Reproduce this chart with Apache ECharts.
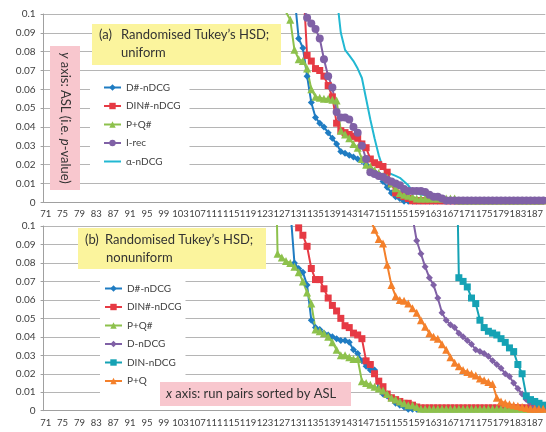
<!DOCTYPE html>
<html>
<head>
<meta charset="utf-8">
<script src="https://cdn.jsdelivr.net/npm/echarts@6/dist/echarts.min.js"></script>
<style>
  html, body { margin: 0; padding: 0; background: #fff; }
  #chart { width: 546px; height: 432px; }
</style>
</head>
<body>
<div id="chart"></div>
<script>
// run pairs shown on the x axis (first / last visible pair)
const firstRun = 71
const lastRun = 189
const yTicks = { min: 0, max: 0.1, step: 0.01 }

// (a) uniform -- each series starts at the given run pair
const dSharpTopStart = 130
const dSharpTop = [
  0.11, 0.087, 0.082, 0.067, 0.053, 0.045, 0.042, 0.040, 0.037, 0.034,
  0.031, 0.027, 0.026, 0.025, 0.024, 0.023, 0.022, 0.020, 0.018,
  0.016, 0.014, 0.011, 0.008, 0.005, 0.003, 0.002,
  0.0005, 0.0005, 0.0005, 0.0005, 0.0005, 0.0005, 0.0005, 0.0005, 0.0005, 0.0005, 0.0005, 0.0005,
  0.0005, 0.0005, 0.0005, 0.0005, 0.0005, 0.0005, 0.0005, 0.0005, 0.0005, 0.0005, 0.0005, 0.0005,
  0.0005, 0.0005, 0.0005, 0.0005, 0.0005, 0.0005, 0.0005, 0.0005, 0.0005, 0.0005,
]
const dinSharpTopStart = 132
const dinSharpTop = [
  0.12, 0.078, 0.075, 0.071, 0.070, 0.067, 0.062, 0.056, 0.042, 0.038,
  0.037, 0.036, 0.035, 0.034, 0.031, 0.029, 0.023, 0.021, 0.020,
  0.019, 0.016, 0.010, 0.005, 0.004, 0.003, 0.002,
  0.0008, 0.0008, 0.0008, 0.0008, 0.0008, 0.0008, 0.0008, 0.0008, 0.0008, 0.0008, 0.0008, 0.0008,
  0.0008, 0.0008, 0.0008, 0.0008, 0.0008, 0.0008, 0.0008, 0.0008, 0.0008, 0.0008, 0.0008, 0.0008,
  0.0008, 0.0008, 0.0008, 0.0008, 0.0008, 0.0008, 0.0008, 0.0008,
]
const pqSharpTopStart = 127
const pqSharpTop = [
  0.12, 0.101, 0.097, 0.081, 0.076, 0.075, 0.071, 0.060, 0.056, 0.0555,
  0.055, 0.055, 0.0545, 0.054, 0.038, 0.036, 0.034, 0.031, 0.029,
  0.023, 0.020, 0.019, 0.017, 0.0155, 0.014, 0.013, 0.010, 0.0075, 0.005,
  0.004, 0.0035, 0.003,
  0.002, 0.002, 0.002, 0.002, 0.002, 0.002, 0.002, 0.002, 0.002, 0.002,
  0.001, 0.001, 0.001, 0.001, 0.001, 0.001, 0.001, 0.001, 0.001, 0.001, 0.001,
  0.001, 0.001, 0.001, 0.001, 0.001, 0.001, 0.001, 0.001, 0.001, 0.001,
]
const iRecTopStart = 132
const iRecTop = [
  0.105, 0.098, 0.095, 0.092, 0.087, 0.076, 0.067, 0.061, 0.048, 0.045,
  0.045, 0.044, 0.040, 0.037, 0.030, 0.023, 0.016, 0.015, 0.014,
  0.0135, 0.012, 0.011, 0.010, 0.009, 0.007, 0.006, 0.006, 0.006, 0.006,
  0.0055, 0.004, 0.003, 0.003, 0.002,
  0.001, 0.001, 0.001, 0.001, 0.001, 0.001, 0.001, 0.001, 0.001, 0.001, 0.001, 0.001,
  0.001, 0.001, 0.001, 0.001, 0.001, 0.001, 0.001, 0.001, 0.001, 0.001, 0.001, 0.001,
]
const alphaTopStart = 140
const alphaTop = [
  0.11, 0.090, 0.081, 0.078, 0.075, 0.071, 0.066, 0.055, 0.044,
  0.034, 0.025, 0.018, 0.016, 0.015, 0.014, 0.013, 0.011, 0.009, 0.006,
  0.005, 0.004, 0.004, 0.003, 0.003, 0.002, 0.002,
  0.0005, 0.0005, 0.0005, 0.0005, 0.0005, 0.0005, 0.0005, 0.0005, 0.0005, 0.0005, 0.0005, 0.0005,
  0.0005, 0.0005, 0.0005, 0.0005, 0.0005, 0.0005, 0.0005, 0.0005, 0.0005, 0.0005, 0.0005, 0.0005,
]

// (b) nonuniform
const dSharpBotStart = 129
const dSharpBot = [
  0.11, 0.080, 0.077, 0.075, 0.068, 0.049, 0.045, 0.044, 0.042, 0.041,
  0.040, 0.039, 0.038, 0.038, 0.037, 0.033, 0.031, 0.027, 0.024,
  0.022, 0.022, 0.012, 0.009, 0.008, 0.007, 0.004, 0.003, 0.002,
  0.0008, 0.0008, 0.0008, 0.0008, 0.0008, 0.0008, 0.0008, 0.0008, 0.0008, 0.0008, 0.0008,
  0.0008, 0.0008, 0.0008, 0.0008, 0.0008, 0.0008, 0.0008, 0.0008, 0.0008, 0.0008, 0.0008,
  0.0008, 0.0008, 0.0008, 0.0008, 0.0008, 0.0008, 0.0008, 0.0008, 0.0008, 0.0008, 0.0008,
]
const dinSharpBotStart = 130
const dinSharpBot = [
  0.13, 0.099, 0.095, 0.089, 0.077, 0.071, 0.071, 0.066, 0.061, 0.057,
  0.054, 0.050, 0.046, 0.045, 0.042, 0.041, 0.039, 0.027, 0.025,
  0.020, 0.016, 0.013, 0.009, 0.007, 0.006, 0.005, 0.004, 0.004, 0.003,
  0.002,
  0.0015, 0.0015, 0.0015, 0.0015, 0.0015, 0.0015, 0.0015, 0.0015, 0.0015, 0.0015,
  0.0015, 0.0015, 0.0015, 0.0015, 0.0015, 0.0015, 0.0015, 0.0015, 0.0015, 0.0015,
  0.0015, 0.0015, 0.0015, 0.0015, 0.0015, 0.0015, 0.0015, 0.0015, 0.0015, 0.0015,
]
const pqSharpBotStart = 125
const pqSharpBot = [
  0.2, 0.085, 0.083, 0.081, 0.080, 0.078, 0.075, 0.070, 0.064, 0.058,
  0.044, 0.043, 0.042, 0.040, 0.037, 0.033, 0.030, 0.030, 0.029, 0.028,
  0.028, 0.016, 0.015, 0.014, 0.013, 0.012, 0.011, 0.009, 0.007,
  0.006, 0.005, 0.004, 0.003, 0.003, 0.002,
  0.001, 0.001, 0.001, 0.001, 0.001, 0.001, 0.001, 0.001, 0.001, 0.001,
  0.001, 0.001, 0.001, 0.001, 0.001, 0.001, 0.001, 0.001, 0.001, 0.001,
  0.001, 0.001, 0.001, 0.001, 0.001, 0.001, 0.001, 0.001, 0.001, 0.001,
]
const dnBotStart = 158
const dnBot = [
  0.105, 0.092, 0.085, 0.078, 0.072, 0.068, 0.061, 0.053, 0.049, 0.0465,
  0.045, 0.042, 0.040, 0.038, 0.036, 0.033, 0.032, 0.031, 0.0295, 0.027,
  0.025, 0.023, 0.020, 0.0185, 0.015, 0.012, 0.009, 0.006, 0.004, 0.002,
  0.001, 0.001,
]
const dinBotStart = 168
const dinBot = [
  0.2, 0.072, 0.070, 0.067, 0.061, 0.058, 0.049, 0.045, 0.043, 0.042,
  0.041, 0.039, 0.037, 0.034, 0.032, 0.025, 0.020, 0.008, 0.006, 0.005,
  0.004, 0.003,
]
const pqBotStart = 148
const pqBot = [
  0.104, 0.098, 0.093, 0.0905, 0.079, 0.068, 0.062, 0.060, 0.0595, 0.058,
  0.0555, 0.053, 0.049, 0.0455, 0.042, 0.040, 0.039, 0.036, 0.033, 0.029,
  0.026, 0.024, 0.022, 0.021, 0.020, 0.019, 0.0175, 0.0165, 0.0155, 0.0145,
  0.007, 0.005, 0.0042, 0.0035, 0.003, 0.0025, 0.002, 0.0015, 0.001, 0.001,
  0.001, 0.001,
]

const font = 'Lato, sans-serif'
const txt = '#404040'
const gridColor = '#b5b5b5'

const runs = []
for (let r = firstRun; r <= lastRun; r++) runs.push(String(r))

// put a series on the run-pair axis, empty before it starts
function place(start, values) {
  return runs.map((r, i) => {
    const k = firstRun + i - start
    return k >= 0 && k < values.length ? values[k] : null
  })
}

function xAxisFor(gridIndex) {
  return {
    type: 'category',
    gridIndex: gridIndex,
    data: runs,
    boundaryGap: true,
    axisLine: { lineStyle: { color: '#a0a0a0', width: 1 } },
    axisTick: { interval: 0, length: 3, lineStyle: { color: '#a0a0a0' } },
    axisLabel: { interval: 3, fontSize: 9.5, fontFamily: font, color: txt, margin: 7 },
    splitLine: { show: false },
  }
}

function yAxisFor(gridIndex) {
  return {
    type: 'value',
    gridIndex: gridIndex,
    min: yTicks.min,
    max: yTicks.max,
    interval: yTicks.step,
    axisLine: { show: true, lineStyle: { color: '#a0a0a0', width: 1 } },
    axisTick: { show: true, length: 3, lineStyle: { color: '#a0a0a0' } },
    axisLabel: { fontSize: 10, fontFamily: font, color: txt, margin: 8 },
    splitLine: { lineStyle: { color: gridColor, width: 1 } },
  }
}

function line(name, idx, data, color, symbol, size) {
  return {
    name: name,
    type: 'line',
    xAxisIndex: idx,
    yAxisIndex: idx,
    data: data,
    color: color,
    symbol: symbol,
    symbolSize: size,
    showSymbol: symbol !== 'none',
    showAllSymbol: true,
    lineStyle: { width: 2, color: color },
    itemStyle: { color: color },
    clip: true,
  }
}

const blue = '#1f7cc2'
const red = '#e63a44'
const green = '#8dc14c'
const purple = '#8061a6'
const cyan = '#22b8d2'
const teal = '#15a2b4'
const orange = '#f4802b'

function legendFor(left, top, padding, names) {
  return {
    orient: 'vertical',
    left: left,
    top: top,
    padding: padding,
    backgroundColor: '#fff',
    itemWidth: 17,
    itemHeight: 8,
    itemGap: 5.5,
    selectedMode: false,
    textStyle: { fontSize: 10, fontFamily: font, color: txt, lineHeight: 13 },
    data: names,
  }
}

function box(x, y, w, h, fill) {
  return { type: 'rect', shape: { x: x, y: y, width: w, height: h }, style: { fill: fill }, z: 10 }
}

function label(x, y, text, extra) {
  return Object.assign({
    type: 'text',
    x: x,
    y: y,
    z: 11,
    style: {
      text: text,
      fontSize: 13,
      fontFamily: font,
      fill: '#333',
      align: 'left',
      verticalAlign: 'middle',
      textAlign: 'left',
      textVerticalAlign: 'middle',
      rich: { i: { fontStyle: 'italic', fontSize: 13, fontFamily: font, fill: '#333' } },
    },
  }, extra || {})
}

const yellow = '#fbf49d'
const pink = '#f8c7ce'

const chart = echarts.init(document.getElementById('chart'))
const option = {
  animation: false,
  backgroundColor: '#fff',
  grid: [
    { left: 43.6, width: 504.4, top: 14, height: 188.3 },
    { left: 43.6, width: 504.4, top: 226, height: 184.7 },
  ],
  xAxis: [xAxisFor(0), xAxisFor(1)],
  yAxis: [yAxisFor(0), yAxisFor(1)],
  legend: [
    legendFor(90, 75, [6, 9, 5, 13], ['D#-nDCG', 'DIN#-nDCG', 'P+Q#', 'I-rec',
      { name: 'α-nDCG', itemStyle: { opacity: 0 } }]),
    legendFor(100, 276, [6, 4, 6, 4], ['D#-nDCG', 'DIN#-nDCG', 'P+Q#', 'D-nDCG', 'DIN-nDCG', 'P+Q']),
  ],
  series: [
    line('D#-nDCG', 0, place(dSharpTopStart, dSharpTop), blue, 'diamond', 7),
    line('DIN#-nDCG', 0, place(dinSharpTopStart, dinSharpTop), red, 'rect', 7),
    line('P+Q#', 0, place(pqSharpTopStart, pqSharpTop), green, 'triangle', 8),
    line('I-rec', 0, place(iRecTopStart, iRecTop), purple, 'circle', 8),
    line('α-nDCG', 0, place(alphaTopStart, alphaTop), cyan, 'none', 0),
    line('D#-nDCG', 1, place(dSharpBotStart, dSharpBot), blue, 'diamond', 7),
    line('DIN#-nDCG', 1, place(dinSharpBotStart, dinSharpBot), red, 'rect', 7),
    line('P+Q#', 1, place(pqSharpBotStart, pqSharpBot), green, 'triangle', 8),
    line('D-nDCG', 1, place(dnBotStart, dnBot), purple, 'diamond', 7),
    line('DIN-nDCG', 1, place(dinBotStart, dinBot), teal, 'rect', 7),
    line('P+Q', 1, place(pqBotStart, pqBot), orange, 'triangle', 8),
  ],
  graphic: [
    box(92, 24, 189, 41, yellow),
    label(99, 35, '(a)'),
    label(121, 35, 'Randomised Tukey’s HSD;'),
    label(121, 53, 'uniform'),
    box(50, 46, 30, 144, pink),
    label(65, 118, '{i|y} axis: ASL (i.e. {i|p}-value)', { rotation: -Math.PI / 2 }),
    box(78, 228, 188, 41, yellow),
    label(85, 240, '(b)'),
    label(105, 240, 'Randomised Tukey’s HSD;'),
    label(106, 258, 'nonuniform'),
    box(160, 382, 191, 24, pink),
    label(166, 394, '{i|x} axis: run pairs sorted by ASL'),
  ],
}
// centre the rotated y-axis note on its box
option.graphic[5].style.align = 'center'
option.graphic[5].style.textAlign = 'center'
chart.setOption(option)
</script>
</body>
</html>
